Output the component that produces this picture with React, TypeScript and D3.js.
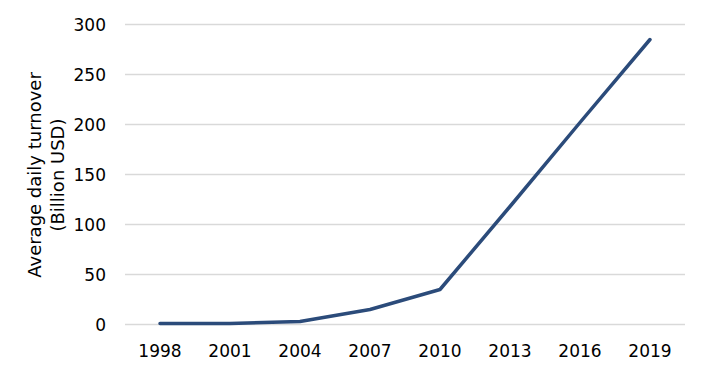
import React, { useEffect, useRef } from 'react';
import * as d3 from 'd3';

const years = ['1998', '2001', '2004', '2007', '2010', '2013', '2016', '2019'];
const turnover = [1, 1, 3, 15, 35, 118, 202, 285];
const yTicks = [0, 50, 100, 150, 200, 250, 300];

export default function App() {
  const ref = useRef<SVGSVGElement>(null);

  useEffect(() => {
    const svg = d3.select(ref.current);
    svg.selectAll('*').remove();
    const font = 'DejaVu Sans, Verdana, sans-serif';
    const m = { l: 125, r: 33, t: 24.5, b: 57.5 };
    const width = 718, height = 382;

    const x = d3.scalePoint<string>().domain(years).range([m.l, width - m.r]).padding(0.5);
    const y = d3.scaleLinear().domain([0, 300]).range([height - m.b, m.t]);

    const g = svg.append('g');
    g.selectAll('line.grid').data(yTicks).enter().append('line')
      .attr('x1', m.l).attr('x2', width - m.r)
      .attr('y1', d => y(d)).attr('y2', d => y(d))
      .attr('stroke', '#d9d9d9').attr('stroke-width', 1.3);

    g.selectAll('text.ytick').data(yTicks).enter().append('text')
      .attr('x', 106).attr('y', d => y(d)).attr('dy', '0.36em')
      .attr('text-anchor', 'end').attr('font-family', font).attr('font-size', 17).attr('fill', '#000')
      .text(d => String(d));

    g.selectAll('text.xtick').data(years).enter().append('text')
      .attr('x', d => x(d)!).attr('y', 357)
      .attr('text-anchor', 'middle').attr('font-family', font).attr('font-size', 17).attr('fill', '#000')
      .text(d => d);

    const title = g.append('text')
      .attr('transform', 'translate(41,175) rotate(-90)')
      .attr('text-anchor', 'middle').attr('font-family', font).attr('font-size', 18).attr('fill', '#000');
    title.append('tspan').attr('x', 0).attr('dy', 0).text('Average daily turnover');
    title.append('tspan').attr('x', 0).attr('dy', 23).text('(Billion USD)');

    const line = d3.line<number>().x((_, i) => x(years[i])!).y(d => y(d));
    g.append('path').datum(turnover)
      .attr('fill', 'none').attr('stroke', '#2b4b7a').attr('stroke-width', 3.5)
      .attr('stroke-linecap', 'round').attr('stroke-linejoin', 'round')
      .attr('d', line);
  }, []);

  return (
    <svg ref={ref} width={718} height={382} style={{ position: 'absolute', left: 0, top: 0, background: '#fff' }} />
  );
}
